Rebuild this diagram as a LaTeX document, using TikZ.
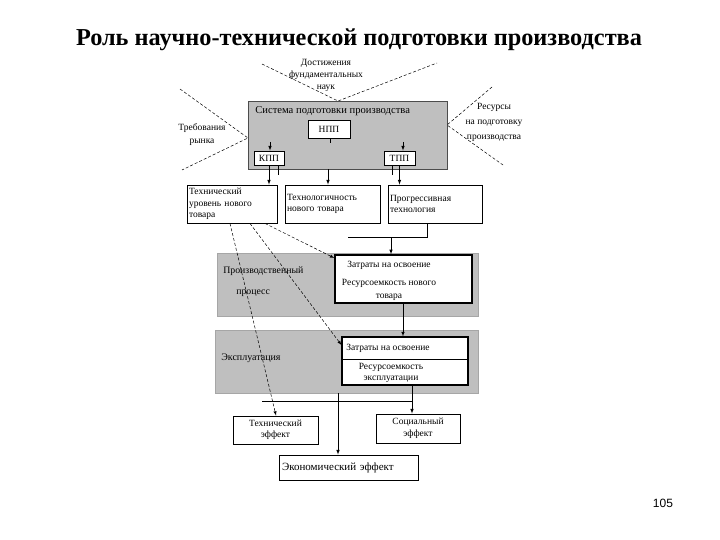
\documentclass[tikz,border=0pt]{standalone}
\usepackage{fontspec}
\setmainfont{Liberation Serif}
\newfontfamily\pagefont{Liberation Sans}

\begin{document}
\begin{tikzpicture}[x=1pt,y=-1pt,>=latex,inner sep=1pt,line width=0.6pt,
  txt/.style={font=\fontsize{9.5}{12}\selectfont,align=center},
  blk/.style={draw,fill=white,line width=0.9pt,align=center,font=\fontsize{9.5}{11.5}\selectfont},
  band/.style={fill=black!25,draw=black!35},
  funnel/.style={densely dashed,line width=0.5pt},
  dsh/.style={->,dash pattern=on 3pt off 2pt,line width=0.5pt}]
\useasboundingbox (0,0) rectangle (720,540);
\node (title) at (359,40) [font=\fontsize{24.3}{26}\selectfont\bfseries] {Роль научно-технической подготовки производства};
\node (page) at (663,503) [font=\pagefont\fontsize{12}{14}\selectfont] {105};
\node (sys) at (347.5,135) [band,draw=black!70,minimum width=199pt,minimum height=68pt] {};
\node (systxt) at (254,111) [txt,anchor=west,font=\fontsize{10.6}{12}\selectfont] {Система подготовки производства};
\node (npp) at (329,129) [blk,minimum width=42pt,minimum height=18pt] {НПП};
\node (kpp) at (269,158) [blk,minimum width=30pt,minimum height=14pt] {КПП};
\node (tpp) at (399.5,158) [blk,minimum width=31pt,minimum height=14pt] {ТПП};
\node (dost) at (326,75) [txt] {Достижения\\фундаментальных\\наук};
\node (treb) at (202,135) [txt,font=\fontsize{9.5}{13}\selectfont] {Требования\\рынка};
\node (res) at (494,122) [txt,font=\fontsize{9.5}{15}\selectfont] {Ресурсы\\на подготовку\\производства};
\coordinate (dostL) at (262,64);
\coordinate (dostR) at (437,63);
\coordinate (dostIn) at (338,101);
\coordinate (trebT) at (180,89);
\coordinate (trebB) at (182,170);
\coordinate (trebIn) at (248,138);
\coordinate (resT) at (492,87);
\coordinate (resB) at (503,165);
\coordinate (resIn) at (447,125);
\draw[funnel] (dostL) -- (dostIn) -- (dostR);
\draw[funnel] (trebT) -- (trebIn) -- (trebB);
\draw[funnel] (resT) -- (resIn) -- (resB);
\coordinate (kppIn) at (270,142);
\coordinate (tppIn) at (403,142);
\coordinate (nppTick) at (330,143);
\draw (npp.south -| nppTick) -- (nppTick);
\draw[->] (kppIn) -- (kpp.north -| kppIn);
\draw[->] (tppIn) -- (tpp.north -| tppIn);
\node (tu) at (232,204) [blk,minimum width=90pt,minimum height=38pt,text width=86pt,align=left] {Технический\\уровень нового\\товара};
\node (tn) at (332.5,204) [blk,minimum width=95pt,minimum height=38pt,text width=91pt,align=left] {Технологичность\\нового товара};
\node (pt) at (435,204) [blk,minimum width=94pt,minimum height=38pt,text width=90pt,align=left] {Прогрессивная\\технология};
\coordinate (sysOut) at (328,0);
\coordinate (kppTick) at (278,175);
\coordinate (tppTick) at (392,175);
\draw[->] (kpp.south) -- (tu.north -| kpp.south);
\draw[->] (sys.south -| sysOut) -- (tn.north -| sysOut);
\draw[->] (tpp.south) -- (pt.north -| tpp.south);
\draw (kpp.south -| kppTick) -- (kppTick);
\draw (tpp.south -| tppTick) -- (tppTick);
\node (prod) at (347.5,284.5) [band,minimum width=261pt,minimum height=63pt] {};
\node (prodtxt) at (222,281.5) [txt,anchor=west,align=left,font=\fontsize{9.8}{21}\selectfont] {Производственный\\\hspace*{13pt}процесс};
\node (zat1) at (403.5,279) [blk,line width=1.5pt,minimum width=137pt,minimum height=48pt] {};
\node (zat1txt) at (389,281) [txt,font=\fontsize{9.5}{13}\selectfont] {Затраты на освоение\\[5pt]Ресурсоемкость нового\\товара};
\coordinate (ptJ) at (427,237);
\coordinate (jL) at (348,237);
\coordinate (jA) at (391,237);
\draw (pt.south -| ptJ) -- (ptJ) -- (jL);
\draw[->] (jA) -- (zat1.north -| jA);
\node (expl) at (346.5,361.5) [band,minimum width=263pt,minimum height=63pt] {};
\node (expltxt) at (220,358) [txt,anchor=west,font=\fontsize{10}{12}\selectfont] {Эксплуатация};
\node (zat2) at (405,361) [blk,line width=1.1pt,minimum width=126pt,minimum height=48pt] {};
\coordinate (zat2Split) at (0,359);
\draw (zat2.west |- zat2Split) -- (zat2.east |- zat2Split);
\node (zat2top) at (345,348) [txt,anchor=west] {Затраты на освоение};
\node (zat2bot) at (391,373) [txt,font=\fontsize{9.5}{11}\selectfont] {Ресурсоемкость\\эксплуатации};
\coordinate (zat1Out) at (403,0);
\draw[->] (zat1.south -| zat1Out) -- (zat2.north -| zat1Out);
\node (te) at (275.5,430) [blk,minimum width=85pt,minimum height=28pt] {Технический\\эффект};
\node (se) at (418,428.5) [blk,minimum width=84pt,minimum height=29pt] {Социальный\\эффект};
\node (ee) at (348.5,467.5) [blk,minimum width=139pt,minimum height=25pt,text width=133pt,align=left,font=\fontsize{11}{12}\selectfont] {Экономический эффект};
\coordinate (seIn) at (412,0);
\coordinate (hL) at (262,401);
\coordinate (eeIn) at (338,0);
\draw[->] (zat2.south -| seIn) -- (se.north -| seIn);
\draw (hL) -- (hL -| seIn);
\draw[->] (expl.south -| eeIn) -- (ee.north -| eeIn);
\coordinate (d1) at (230,0);
\coordinate (d2) at (250,0);
\coordinate (d3) at (265,0);
\coordinate (teIn) at (276,0);
\coordinate (z1In) at (0,258);
\coordinate (z2In) at (0,345);
\draw[dsh] (tu.south -| d1) -- (te.north -| teIn);
\draw[dsh] (tu.south -| d2) -- (zat2.west |- z2In);
\draw[dsh] (tu.south -| d3) -- (zat1.west |- z1In);
\end{tikzpicture}
\end{document}
